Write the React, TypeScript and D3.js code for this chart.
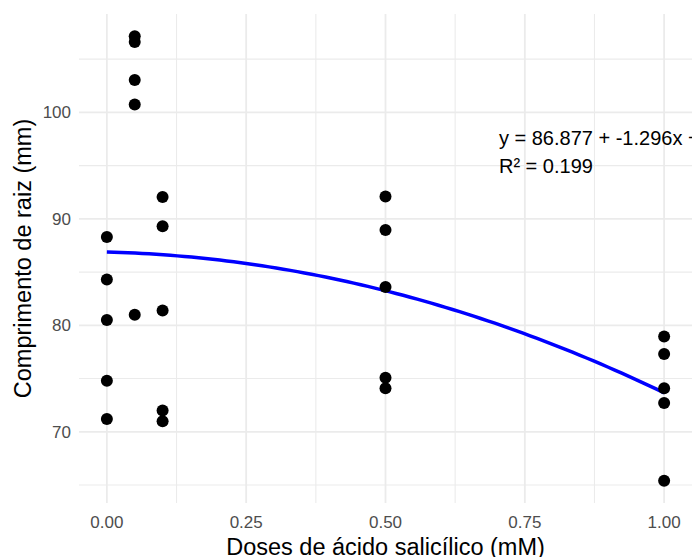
import React from "react";
import * as d3 from "d3";

const doses = [0, 0, 0, 0, 0, 0.05, 0.05, 0.05, 0.05, 0.05, 0.1, 0.1, 0.1, 0.1, 0.1, 0.5, 0.5, 0.5, 0.5, 0.5, 1, 1, 1, 1, 1];
const lengths = [88.3, 84.3, 80.5, 74.8, 71.2, 107.15, 106.6, 103.05, 100.74, 81.0, 92.05, 89.3, 81.4, 72.0, 71.0, 92.1, 88.95, 83.6, 75.07, 74.1, 78.94, 77.3, 74.1, 72.7, 65.4];
const coef = [86.877, -1.296, -11.92];
const xTicks = [0, 0.25, 0.5, 0.75, 1];
const xMinor = [0.125, 0.375, 0.625, 0.875];
const yTicks = [70, 80, 90, 100];
const yMinor = [65, 75, 85, 95, 105];

const W = 695, H = 557;
const PL = 79, PR = 692, PT = 14, PB = 503;
const FONT = "'Liberation Sans', Arial, sans-serif";

export default function App() {
  const xExt = [0, 1];
  const yMin = d3.min(lengths)!, yMax = d3.max(lengths)!;
  const ypad = (yMax - yMin) * 0.05;
  const x = d3.scaleLinear().domain([xExt[0] - 0.05, xExt[1] + 0.05]).range([PL, PR]);
  const y = d3.scaleLinear().domain([yMin - ypad, yMax + ypad]).range([PB, PT]);
  const fx = (d: number) => coef[0] + coef[1] * d + coef[2] * d * d;
  const pts = d3.range(0, 80).map((i) => i / 79);
  const line = d3.line<number>().x((d) => x(d)).y((d) => y(fx(d)));
  const grid = "#EBEBEB";
  return (
    <svg width={W} height={H} style={{ position: "absolute", left: 0, top: 0, background: "#fff" }} fontFamily={FONT}>
      <defs>
        <clipPath id="panel">
          <rect x={PL} y={PT} width={PR - PL} height={PB - PT} />
        </clipPath>
      </defs>
      {yMinor.map((v) => (
        <line key={"ym" + v} x1={PL} x2={PR} y1={y(v)} y2={y(v)} stroke={grid} strokeWidth={1.1} />
      ))}
      {xMinor.map((v) => (
        <line key={"xm" + v} x1={x(v)} x2={x(v)} y1={PT} y2={PB} stroke={grid} strokeWidth={1.1} />
      ))}
      {yTicks.map((v) => (
        <line key={"y" + v} x1={PL} x2={PR} y1={y(v)} y2={y(v)} stroke={grid} strokeWidth={1.8} />
      ))}
      {xTicks.map((v) => (
        <line key={"x" + v} x1={x(v)} x2={x(v)} y1={PT} y2={PB} stroke={grid} strokeWidth={1.8} />
      ))}
      <path d={line(pts) || ""} fill="none" stroke="#0000FF" strokeWidth={3.5} />
      {doses.map((d, i) => (
        <circle key={i} cx={x(d)} cy={y(lengths[i])} r={6} fill="#000" />
      ))}
      <g clipPath="url(#panel)" fontSize={20} fill="#000">
        <text x={x(0.7) + 2} y={145}>y = 86.877 + -1.296x + -11.920x²</text>
        <text x={x(0.7) + 2} y={173.3}>R² = 0.199</text>
      </g>
      {yTicks.map((v) => (
        <text key={"yl" + v} x={71} y={y(v) + 6} textAnchor="end" fontSize={17} fill="#4D4D4D">
          {v}
        </text>
      ))}
      {xTicks.map((v) => (
        <text key={"xl" + v} x={x(v)} y={528} textAnchor="middle" fontSize={17} fill="#4D4D4D">
          {v.toFixed(2)}
        </text>
      ))}
      <text x={(PL + PR) / 2} y={555} textAnchor="middle" fontSize={23.5} fill="#000">
        Doses de ácido salicílico (mM)
      </text>
      <text transform={`translate(31,${(PT + PB) / 2}) rotate(-90)`} textAnchor="middle" fontSize={23.5} fill="#000">
        Comprimento de raiz (mm)
      </text>
    </svg>
  );
}
